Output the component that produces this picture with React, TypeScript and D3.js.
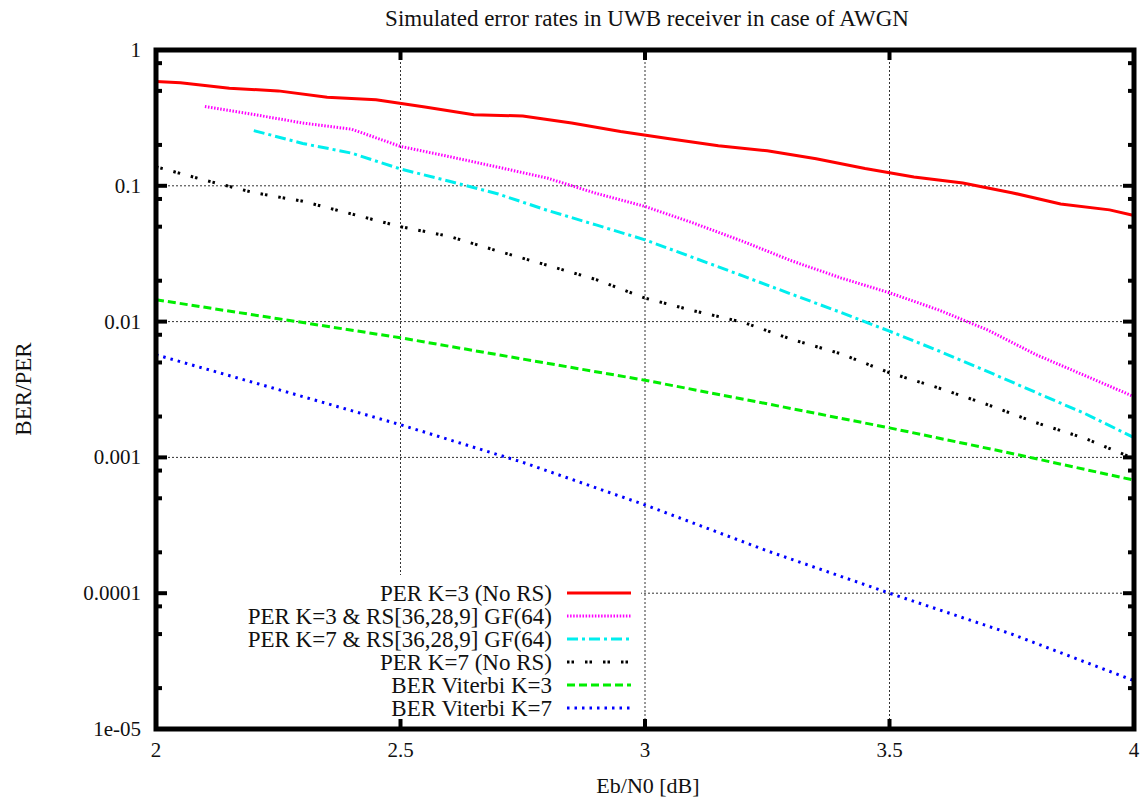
import React, { useEffect, useRef } from "react";
import * as d3 from "d3";

// Eb/N0 sample points (dB)
const ebn0 = [2.0, 2.1, 2.2, 2.3, 2.4, 2.5, 2.6, 2.7, 2.8, 2.9, 3.0, 3.1, 3.2, 3.3, 3.4, 3.5, 3.6, 3.7, 3.8, 3.9, 4.0];
const ebn0K3 = [2.0, 2.05, 2.15, 2.25, 2.35, 2.45, 2.55, 2.65, 2.75, 2.85, 2.95, 3.05, 3.15, 3.25, 3.35, 3.45, 3.55, 3.65, 3.75, 3.85, 3.95, 4.0];
const ebn0Ber = [2.0, 2.25, 2.5, 2.75, 3.0, 3.25, 3.5, 3.75, 4.0];

const perK3NoRS = [0.585, 0.575, 0.523, 0.5, 0.449, 0.43, 0.38, 0.333, 0.327, 0.29, 0.251, 0.222, 0.197, 0.181, 0.158, 0.134, 0.116, 0.105, 0.089, 0.0735, 0.0665, 0.0605];
const perK3RS = [null, 0.383, 0.335, 0.29, 0.261, 0.195, 0.164, 0.137, 0.114, 0.088, 0.0705, 0.053, 0.039, 0.028, 0.021, 0.0163, 0.0122, 0.0087, 0.0057, 0.004, 0.0028];
const perK7RS = [null, null, 0.255, 0.205, 0.174, 0.133, 0.108, 0.087, 0.066, 0.0515, 0.04, 0.0295, 0.0217, 0.0159, 0.0117, 0.0085, 0.0061, 0.0043, 0.003, 0.0021, 0.0014];
const perK7NoRS = [0.138, 0.11, 0.089, 0.077, 0.062, 0.05, 0.0424, 0.033, 0.026, 0.0204, 0.0149, 0.012, 0.0099, 0.0074, 0.0058, 0.0042, 0.00325, 0.00245, 0.0018, 0.00138, 0.00098];
const berViterbiK3 = [0.0145, 0.0105, 0.0076, 0.0053, 0.0037, 0.00248, 0.00165, 0.00107, 0.00068];
const berViterbiK7 = [0.0057, 0.00316, 0.00174, 0.00092, 0.000447, 0.000205, 0.0001, 0.00005, 0.0000227];

const xTicks = [2, 2.5, 3, 3.5, 4];
const xTickLabels = ["2", "2.5", "3", "3.5", "4"];
const yTicks = [1, 0.1, 0.01, 0.001, 0.0001, 0.00001];
const yTickLabels = ["1", "0.1", "0.01", "0.001", "0.0001", "1e-05"];
const yMinorMantissas = [2, 5, 8];

const legendLabels = [
  "PER K=3 (No RS)",
  "PER K=3 & RS[36,28,9] GF(64)",
  "PER K=7 & RS[36,28,9] GF(64)",
  "PER K=7 (No RS)",
  "BER Viterbi K=3",
  "BER Viterbi K=7",
];

const W = 1142;
const H = 798;
const FONT = "'Liberation Serif', 'Times New Roman', serif";

export default function App() {
  const svgRef = useRef<SVGSVGElement | null>(null);

  useEffect(() => {
    const svg = d3.select(svgRef.current);
    svg.selectAll("*").remove();

    const left = 156, right = 1134, top = 50, bottom = 729;
    const x = d3.scaleLinear().domain([2, 4]).range([left, right]);
    const y = d3.scaleLog().domain([0.00001, 1]).range([bottom, top]);

    const series = [
      { xs: ebn0K3, ys: perK3NoRS, color: "#ff0000", width: 3, dash: null },
      { xs: ebn0, ys: perK3RS, color: "#ff00ff", width: 3, dash: "1.5,1.6" },
      { xs: ebn0, ys: perK7RS, color: "#00eeee", width: 3, dash: "11,4,3,4" },
      { xs: ebn0, ys: perK7NoRS, color: "#000000", width: 3, dash: "2.5,2,2.5,11" },
      { xs: ebn0Ber, ys: berViterbiK3, color: "#00ee00", width: 3, dash: "8,4" },
      { xs: ebn0Ber, ys: berViterbiK7, color: "#0000ff", width: 3, dash: "2.5,5" },
    ];

    // grid
    const grid = svg.append("g").attr("stroke", "#333").attr("stroke-width", 1).attr("stroke-dasharray", "2,2");
    xTicks.slice(1, -1).forEach((t) => {
      grid.append("line").attr("x1", x(t)).attr("x2", x(t)).attr("y1", top).attr("y2", bottom);
    });
    yTicks.slice(1, -1).forEach((t) => {
      grid.append("line").attr("x1", left).attr("x2", right).attr("y1", y(t)).attr("y2", y(t));
    });

    // opaque key box
    svg.append("rect").attr("x", left + 3).attr("y", 575).attr("width", 641 - left - 3).attr("height", bottom - 575 - 2).attr("fill", "white");

    // curves
    const line = d3
      .line<[number, number | null]>()
      .defined((d) => d[1] != null)
      .x((d) => x(d[0]))
      .y((d) => y(d[1] as number));

    series.forEach((s) => {
      const pts = s.xs.map((v, i) => [v, s.ys[i]] as [number, number | null]);
      svg
        .append("path")
        .datum(pts)
        .attr("fill", "none")
        .attr("stroke", s.color)
        .attr("stroke-width", s.width)
        .attr("stroke-dasharray", s.dash)
        .attr("d", line);
    });

    // frame and ticks
    const axes = svg.append("g").attr("stroke", "black");
    axes.append("rect").attr("x", left).attr("y", top).attr("width", right - left).attr("height", bottom - top)
      .attr("fill", "none").attr("stroke-width", 5);
    xTicks.slice(1, -1).forEach((t) => {
      axes.append("line").attr("x1", x(t)).attr("x2", x(t)).attr("y1", top).attr("y2", top + 10).attr("stroke-width", 4);
      axes.append("line").attr("x1", x(t)).attr("x2", x(t)).attr("y1", bottom).attr("y2", bottom - 10).attr("stroke-width", 4);
    });
    yTicks.forEach((t) => {
      axes.append("line").attr("x1", left).attr("x2", left + 11).attr("y1", y(t)).attr("y2", y(t)).attr("stroke-width", 4);
      axes.append("line").attr("x1", right).attr("x2", right - 11).attr("y1", y(t)).attr("y2", y(t)).attr("stroke-width", 4);
    });
    yTicks.slice(1).forEach((t) => {
      yMinorMantissas.forEach((m) => {
        const v = t * m;
        axes.append("line").attr("x1", left).attr("x2", left + 6).attr("y1", y(v)).attr("y2", y(v)).attr("stroke-width", 4);
        axes.append("line").attr("x1", right).attr("x2", right - 6).attr("y1", y(v)).attr("y2", y(v)).attr("stroke-width", 4);
      });
    });

    // tick labels
    const txt = svg.append("g").attr("font-family", FONT).attr("font-size", 21).attr("fill", "#111");
    xTicks.forEach((t, i) => {
      txt.append("text").attr("x", x(t)).attr("y", 757).attr("text-anchor", "middle").text(xTickLabels[i]);
    });
    yTicks.forEach((t, i) => {
      txt.append("text").attr("x", 141).attr("y", y(t) + 7).attr("text-anchor", "end").text(yTickLabels[i]);
    });

    // titles
    txt.append("text").attr("x", 647).attr("y", 26).attr("font-size", 23).attr("text-anchor", "middle").text("Simulated error rates in UWB receiver in case of AWGN");
    txt.append("text").attr("x", 648).attr("y", 793).attr("font-size", 22).attr("text-anchor", "middle").text("Eb/N0 [dB]");
    txt.append("text").attr("transform", "translate(31,389) rotate(-90)").attr("font-size", 23).attr("text-anchor", "middle").text("BER/PER");

    // legend
    legendLabels.forEach((lab, i) => {
      const ly = 593 + i * 23;
      txt.append("text").attr("x", 552).attr("y", ly + 7.5).attr("font-size", 23).attr("text-anchor", "end").text(lab);
      const s = series[i];
      svg.append("line").attr("x1", 567).attr("x2", 631).attr("y1", ly).attr("y2", ly)
        .attr("stroke", s.color).attr("stroke-width", s.width).attr("stroke-dasharray", s.dash);
    });
  }, []);

  return (
    <svg
      ref={svgRef}
      width={W}
      height={H}
      style={{ position: "absolute", left: 0, top: 0, background: "white" }}
    />
  );
}
